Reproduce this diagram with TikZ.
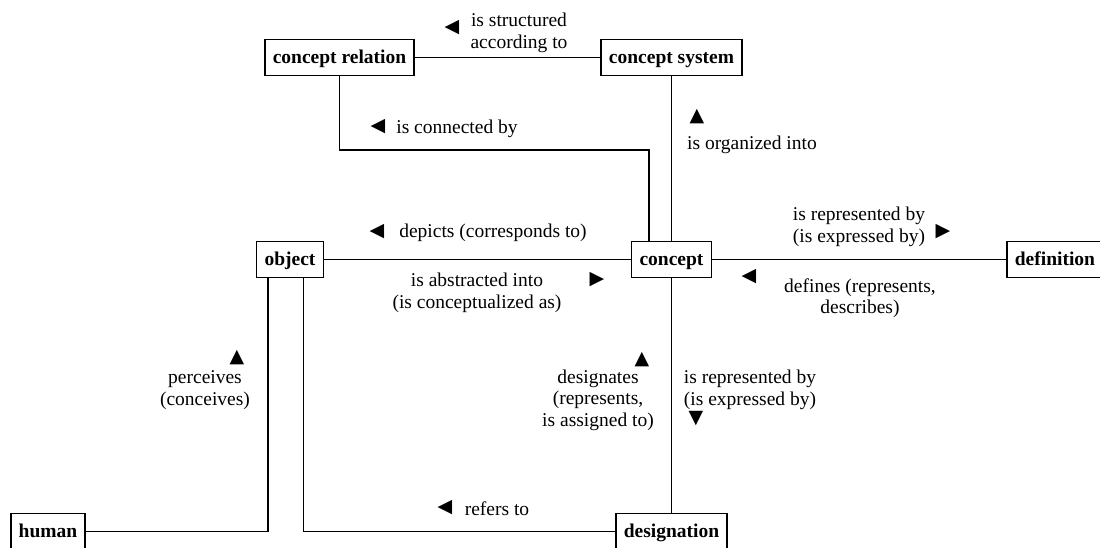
\documentclass[tikz,border=0pt]{standalone}
\usepackage{fontspec}
\setmainfont{Liberation Serif}
\newfontfamily\symf{DejaVu Sans}
\begin{document}
\begin{tikzpicture}[x=1bp,y=-1bp,
  box/.style={draw,line width=1.7bp,font=\bfseries\fontsize{19.5bp}{22bp}\selectfont,inner xsep=8bp,minimum height=36bp,inner ysep=0pt,text height=15bp,text depth=3bp},
  lbl/.style={font=\fontsize{19.5bp}{21.5bp}\selectfont,align=center,inner sep=0pt},
  tri/.style={font=\symf\fontsize{19bp}{19bp}\selectfont,inner sep=0pt},
  conn/.style={line width=1.7bp}]
\useasboundingbox (0,0) rectangle (1100,548);
\node[box] (crel) at (339.5,57.5) {concept relation};
\node[box] (csys) at (671.5,57.5) {concept system};
\node[box] (obj) at (290,259.5) {object};
\node[box] (con) at (671.5,259.5) {concept};
\node[box,anchor=west] (def) at (1006,259.5) {definition};
\node[box] (hum) at (48,531.5) {human};
\node[box] (des) at (671.5,531.5) {designation};
\coordinate (c1) at (649,150);
\draw[conn] (crel) -- (csys);
\draw[conn] (crel.south) |- (c1) -- (c1 |- con.north);
\draw[conn] (csys) -- (con);
\draw[conn] (obj) -- (con);
\draw[conn] (con) -- (def);
\draw[conn] (con) -- (des);
\draw[conn] ([xshift=-22bp]obj.south) |- (hum.east);
\draw[conn] ([xshift=13.5bp]obj.south) |- (des.west);
% labels
\node[tri] (t1) at (452,28) {◀};
\node[lbl] (l1) at (519,33) {is structured\\according to};
\node[tri] (t2) at (378,127) {◀};
\node[lbl] (l2) at (457,129) {is connected by};
\node[tri] (t3) at (697,117) {▲};
\node[lbl,anchor=west] (l3) at (687,145) {is organized into};
\node[tri] (t4) at (377,232) {◀};
\node[lbl] (l4) at (493,233) {depicts (corresponds to)};
\node[lbl] (l5) at (477,293) {is abstracted into\\(is conceptualized as)};
\node[tri] (t5) at (597,280) {▶};
\node[lbl] (l6) at (859,227) {is represented by\\(is expressed by)};
\node[tri] (t6) at (943,232) {▶};
\node[tri] (t7) at (749,277) {◀};
\node[lbl] (l7) at (860,298) {defines (represents,\\describes)};
\node[tri] (t8) at (237,358) {▲};
\node[lbl] (l8) at (205,390) {perceives\\(conceives)};
\node[tri] (t9) at (642,360) {▲};
\node[lbl] (l9) at (598,400) {designates\\(represents,\\is assigned to)};
\node[lbl] (l10) at (750,390) {is represented by\\(is expressed by)};
\node[tri] (t10) at (696,419) {▼};
\node[tri] (t11) at (445,508) {◀};
\node[lbl] (l11) at (497,509) {refers to};
\end{tikzpicture}
\end{document}
